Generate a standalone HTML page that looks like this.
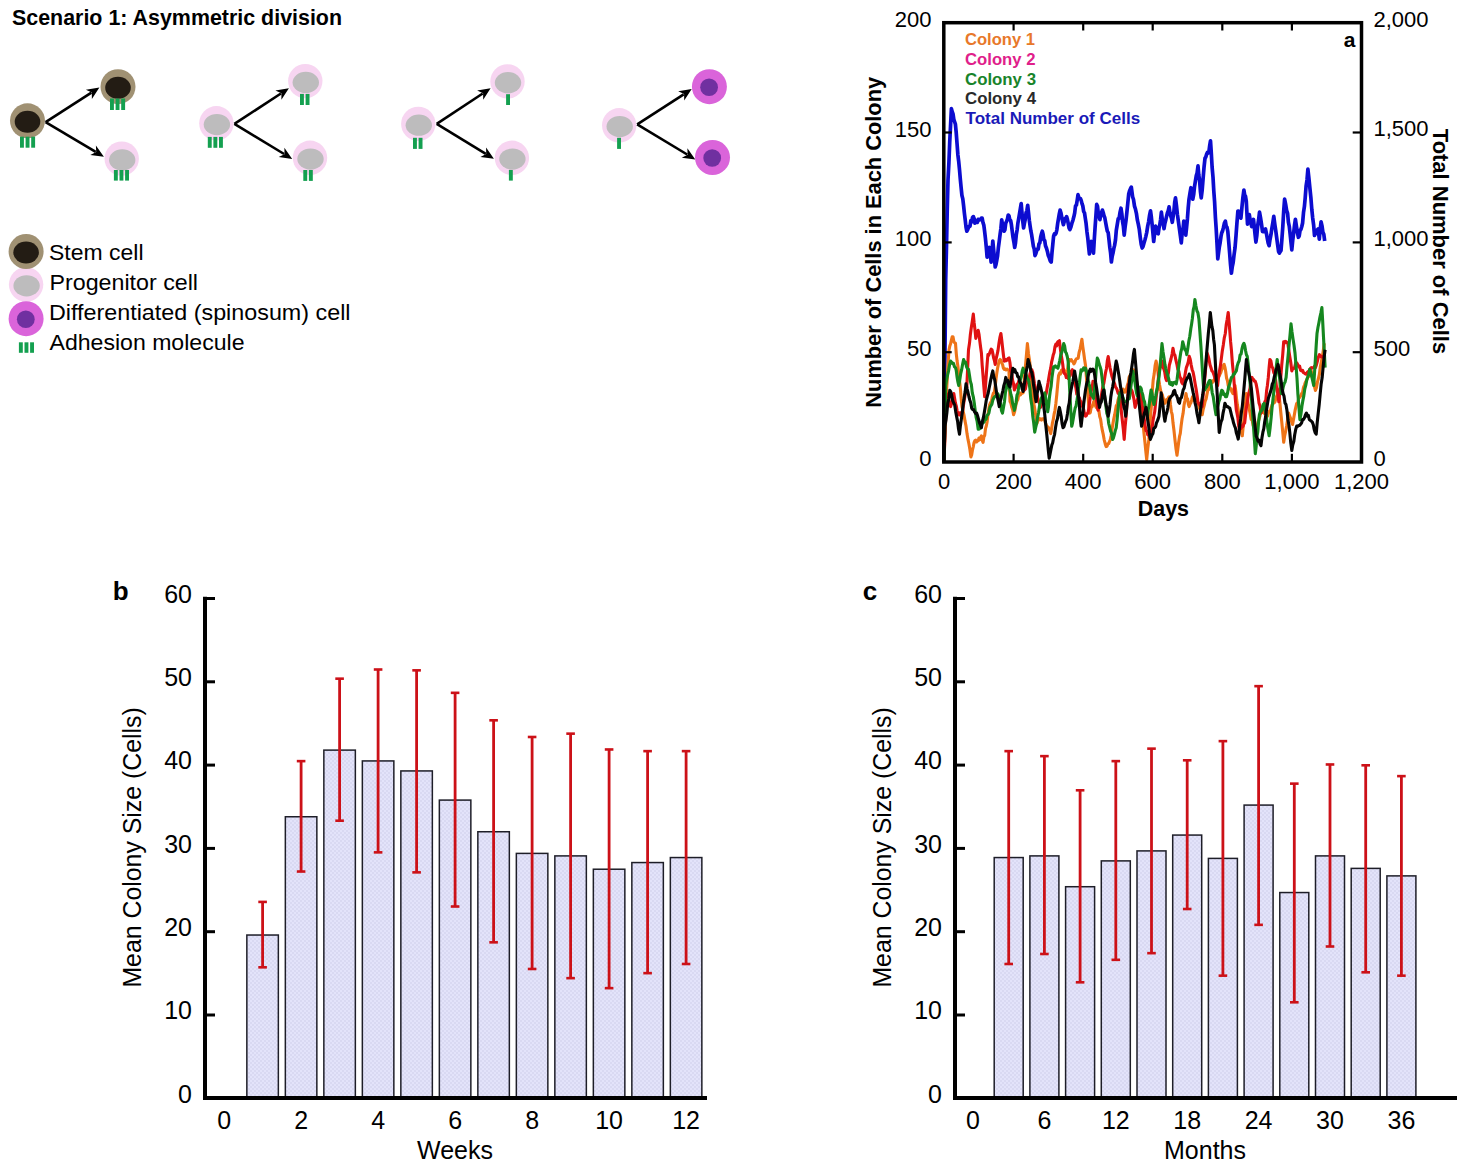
<!DOCTYPE html>
<html><head><meta charset="utf-8"><style>
html,body{margin:0;padding:0;background:#fff;}
svg{display:block;font-family:"Liberation Sans", sans-serif;}
</style></head><body>
<svg width="1467" height="1170" viewBox="0 0 1467 1170">
<defs><pattern id="hatch" width="4" height="4" patternUnits="userSpaceOnUse">
<rect width="4" height="4" fill="#e3e3fa"/><rect width="2" height="2" fill="#d9d9f2"/><rect x="2" y="2" width="2" height="2" fill="#d9d9f2"/></pattern></defs>
<rect width="1467" height="1170" fill="#fff"/>
<text x="12" y="24.6" font-size="22.5" font-weight="bold" textLength="330" lengthAdjust="spacingAndGlyphs" fill="#000">Scenario 1: Asymmetric division</text>
<circle cx="27.5" cy="120.8" r="17.5" fill="#a09173"/>
<ellipse cx="27.5" cy="121.8" rx="12.8" ry="11" fill="#231c14"/>
<rect x="20.0" y="136.7" width="3.9" height="11" fill="#14a050"/>
<rect x="25.6" y="136.7" width="3.9" height="11" fill="#14a050"/>
<rect x="31.2" y="136.7" width="3.9" height="11" fill="#14a050"/>
<line x1="45.6" y1="122.2" x2="91.4" y2="92.6" stroke="#000" stroke-width="2.6"/>
<polygon points="99.4,87.5 91.9,98.9 91.8,92.4 85.9,89.7" fill="#000"/>
<line x1="45.6" y1="122.2" x2="95.7" y2="151.9" stroke="#000" stroke-width="2.6"/>
<polygon points="103.9,156.7 90.3,155.1 96.2,152.1 95.9,145.6" fill="#000"/>
<circle cx="118" cy="86.7" r="17.5" fill="#a09173"/>
<ellipse cx="118" cy="87.7" rx="12.8" ry="11" fill="#231c14"/>
<rect x="110.0" y="98.5" width="3.9" height="11.5" fill="#14a050"/>
<rect x="115.6" y="98.5" width="3.9" height="11.5" fill="#14a050"/>
<rect x="121.2" y="98.5" width="3.9" height="11.5" fill="#14a050"/>
<circle cx="121.7" cy="158.6" r="17.2" fill="#f7d5f1"/>
<ellipse cx="122.2" cy="159.9" rx="13.2" ry="10.6" fill="#bdbcbd"/>
<rect x="113.9" y="170" width="3.9" height="10.6" fill="#14a050"/>
<rect x="119.5" y="170" width="3.9" height="10.6" fill="#14a050"/>
<rect x="125.1" y="170" width="3.9" height="10.6" fill="#14a050"/>
<circle cx="216.4" cy="123.3" r="17.2" fill="#f7d5f1"/>
<ellipse cx="216.9" cy="124.6" rx="13.2" ry="10.6" fill="#bdbcbd"/>
<rect x="207.8" y="136.9" width="3.9" height="10.9" fill="#14a050"/>
<rect x="213.4" y="136.9" width="3.9" height="10.9" fill="#14a050"/>
<rect x="219.0" y="136.9" width="3.9" height="10.9" fill="#14a050"/>
<line x1="234.4" y1="123.9" x2="280.9" y2="93.5" stroke="#000" stroke-width="2.6"/>
<polygon points="288.9,88.3 281.4,99.7 281.4,93.2 275.4,90.5" fill="#000"/>
<line x1="234.4" y1="123.9" x2="284.1" y2="154.0" stroke="#000" stroke-width="2.6"/>
<polygon points="292.2,158.9 278.7,157.1 284.5,154.2 284.4,147.7" fill="#000"/>
<circle cx="305.3" cy="81.1" r="17.2" fill="#f7d5f1"/>
<ellipse cx="305.8" cy="82.39999999999999" rx="13.2" ry="10.6" fill="#bdbcbd"/>
<rect x="300.0" y="93.9" width="3.9" height="11.1" fill="#14a050"/>
<rect x="305.6" y="93.9" width="3.9" height="11.1" fill="#14a050"/>
<circle cx="310" cy="157.8" r="17.2" fill="#f7d5f1"/>
<ellipse cx="310.5" cy="159.10000000000002" rx="13.2" ry="10.6" fill="#bdbcbd"/>
<rect x="303.3" y="170" width="3.9" height="10.9" fill="#14a050"/>
<rect x="308.9" y="170" width="3.9" height="10.9" fill="#14a050"/>
<circle cx="418.3" cy="123.9" r="17.2" fill="#f7d5f1"/>
<ellipse cx="418.8" cy="125.2" rx="13.2" ry="10.6" fill="#bdbcbd"/>
<rect x="413.0" y="137.8" width="3.9" height="11.1" fill="#14a050"/>
<rect x="418.6" y="137.8" width="3.9" height="11.1" fill="#14a050"/>
<line x1="436.7" y1="123.9" x2="482.7" y2="93.5" stroke="#000" stroke-width="2.6"/>
<polygon points="490.6,88.3 483.2,99.8 483.1,93.3 477.1,90.6" fill="#000"/>
<line x1="436.7" y1="123.9" x2="485.8" y2="153.8" stroke="#000" stroke-width="2.6"/>
<polygon points="493.9,158.7 480.4,156.9 486.2,154.0 486.1,147.5" fill="#000"/>
<circle cx="507.5" cy="81.4" r="17.2" fill="#f7d5f1"/>
<ellipse cx="508.0" cy="82.7" rx="13.2" ry="10.6" fill="#bdbcbd"/>
<rect x="506.1" y="94.2" width="3.9" height="10.8" fill="#14a050"/>
<circle cx="511.9" cy="157.8" r="17.2" fill="#f7d5f1"/>
<ellipse cx="512.4" cy="159.10000000000002" rx="13.2" ry="10.6" fill="#bdbcbd"/>
<rect x="508.9" y="170" width="3.9" height="10.6" fill="#14a050"/>
<circle cx="619.2" cy="125.3" r="17.2" fill="#f7d5f1"/>
<ellipse cx="619.7" cy="126.6" rx="13.2" ry="10.6" fill="#bdbcbd"/>
<rect x="617.1" y="137.8" width="3.9" height="11.1" fill="#14a050"/>
<line x1="637.2" y1="124.4" x2="683.7" y2="94.3" stroke="#000" stroke-width="2.6"/>
<polygon points="691.7,89.1 684.2,100.5 684.1,94.0 678.2,91.3" fill="#000"/>
<line x1="637.2" y1="124.4" x2="687.2" y2="154.5" stroke="#000" stroke-width="2.6"/>
<polygon points="695.3,159.4 681.8,157.7 687.6,154.8 687.4,148.2" fill="#000"/>
<circle cx="709.4" cy="86.7" r="17.5" fill="#da64da"/>
<ellipse cx="709.1" cy="87.2" rx="8.9" ry="8.8" fill="#7030a0"/>
<circle cx="712.5" cy="157.5" r="17.5" fill="#da64da"/>
<ellipse cx="712.2" cy="158.0" rx="8.9" ry="8.8" fill="#7030a0"/>
<circle cx="26.1" cy="284.5" r="17.2" fill="#f7d5f1"/>
<ellipse cx="26.6" cy="285.8" rx="13.2" ry="10.6" fill="#bdbcbd"/>
<circle cx="26.1" cy="251.5" r="17.5" fill="#a09173"/>
<ellipse cx="26.1" cy="252.5" rx="12.8" ry="11" fill="#231c14"/>
<circle cx="26.1" cy="318.7" r="17.5" fill="#da64da"/>
<ellipse cx="25.8" cy="319.2" rx="8.9" ry="8.8" fill="#7030a0"/>
<rect x="18.9" y="342.3" width="3.9" height="10.5" fill="#14a050"/>
<rect x="24.5" y="342.3" width="3.9" height="10.5" fill="#14a050"/>
<rect x="30.1" y="342.3" width="3.9" height="10.5" fill="#14a050"/>
<text x="49" y="259.6" font-size="22" textLength="94.5" lengthAdjust="spacingAndGlyphs" fill="#000">Stem cell</text>
<text x="49.5" y="289.5" font-size="22" textLength="148.5" lengthAdjust="spacingAndGlyphs" fill="#000">Progenitor cell</text>
<text x="49" y="319.6" font-size="22" textLength="301.5" lengthAdjust="spacingAndGlyphs" fill="#000">Differentiated (spinosum) cell</text>
<text x="49.5" y="349.5" font-size="22" textLength="195" lengthAdjust="spacingAndGlyphs" fill="#000">Adhesion molecule</text>
<rect x="246.85" y="935.03" width="31.5" height="163.27" fill="url(#hatch)" stroke="#1e1e28" stroke-width="1.5"/>
<rect x="285.35" y="816.75" width="31.5" height="281.55" fill="url(#hatch)" stroke="#1e1e28" stroke-width="1.5"/>
<rect x="323.85" y="750.11" width="31.5" height="348.19" fill="url(#hatch)" stroke="#1e1e28" stroke-width="1.5"/>
<rect x="362.35" y="760.93" width="31.5" height="337.37" fill="url(#hatch)" stroke="#1e1e28" stroke-width="1.5"/>
<rect x="400.85" y="770.93" width="31.5" height="327.37" fill="url(#hatch)" stroke="#1e1e28" stroke-width="1.5"/>
<rect x="439.35" y="800.09" width="31.5" height="298.21" fill="url(#hatch)" stroke="#1e1e28" stroke-width="1.5"/>
<rect x="477.85" y="831.74" width="31.5" height="266.56" fill="url(#hatch)" stroke="#1e1e28" stroke-width="1.5"/>
<rect x="516.35" y="853.40" width="31.5" height="244.90" fill="url(#hatch)" stroke="#1e1e28" stroke-width="1.5"/>
<rect x="554.85" y="855.90" width="31.5" height="242.40" fill="url(#hatch)" stroke="#1e1e28" stroke-width="1.5"/>
<rect x="593.35" y="869.22" width="31.5" height="229.08" fill="url(#hatch)" stroke="#1e1e28" stroke-width="1.5"/>
<rect x="631.85" y="862.56" width="31.5" height="235.74" fill="url(#hatch)" stroke="#1e1e28" stroke-width="1.5"/>
<rect x="670.35" y="857.56" width="31.5" height="240.74" fill="url(#hatch)" stroke="#1e1e28" stroke-width="1.5"/>
<line x1="262.6" y1="901.71" x2="262.6" y2="967.52" stroke="#cc1118" stroke-width="2.8"/>
<line x1="258.3" y1="901.91" x2="266.90000000000003" y2="901.91" stroke="#cc1118" stroke-width="2.6"/>
<line x1="258.3" y1="967.32" x2="266.90000000000003" y2="967.32" stroke="#cc1118" stroke-width="2.6"/>
<line x1="301.1" y1="760.93" x2="301.1" y2="871.72" stroke="#cc1118" stroke-width="2.8"/>
<line x1="296.8" y1="761.13" x2="305.40000000000003" y2="761.13" stroke="#cc1118" stroke-width="2.6"/>
<line x1="296.8" y1="871.52" x2="305.40000000000003" y2="871.52" stroke="#cc1118" stroke-width="2.6"/>
<line x1="339.6" y1="678.47" x2="339.6" y2="820.91" stroke="#cc1118" stroke-width="2.8"/>
<line x1="335.3" y1="678.67" x2="343.90000000000003" y2="678.67" stroke="#cc1118" stroke-width="2.6"/>
<line x1="335.3" y1="820.71" x2="343.90000000000003" y2="820.71" stroke="#cc1118" stroke-width="2.6"/>
<line x1="378.1" y1="669.30" x2="378.1" y2="852.56" stroke="#cc1118" stroke-width="2.8"/>
<line x1="373.8" y1="669.50" x2="382.40000000000003" y2="669.50" stroke="#cc1118" stroke-width="2.6"/>
<line x1="373.8" y1="852.36" x2="382.40000000000003" y2="852.36" stroke="#cc1118" stroke-width="2.6"/>
<line x1="416.6" y1="670.14" x2="416.6" y2="872.56" stroke="#cc1118" stroke-width="2.8"/>
<line x1="412.3" y1="670.34" x2="420.90000000000003" y2="670.34" stroke="#cc1118" stroke-width="2.6"/>
<line x1="412.3" y1="872.36" x2="420.90000000000003" y2="872.36" stroke="#cc1118" stroke-width="2.6"/>
<line x1="455.1" y1="692.63" x2="455.1" y2="906.71" stroke="#cc1118" stroke-width="2.8"/>
<line x1="450.8" y1="692.83" x2="459.40000000000003" y2="692.83" stroke="#cc1118" stroke-width="2.6"/>
<line x1="450.8" y1="906.51" x2="459.40000000000003" y2="906.51" stroke="#cc1118" stroke-width="2.6"/>
<line x1="493.6" y1="720.12" x2="493.6" y2="942.53" stroke="#cc1118" stroke-width="2.8"/>
<line x1="489.3" y1="720.32" x2="497.90000000000003" y2="720.32" stroke="#cc1118" stroke-width="2.6"/>
<line x1="489.3" y1="942.33" x2="497.90000000000003" y2="942.33" stroke="#cc1118" stroke-width="2.6"/>
<line x1="532.1" y1="736.78" x2="532.1" y2="969.18" stroke="#cc1118" stroke-width="2.8"/>
<line x1="527.8000000000001" y1="736.98" x2="536.4" y2="736.98" stroke="#cc1118" stroke-width="2.6"/>
<line x1="527.8000000000001" y1="968.98" x2="536.4" y2="968.98" stroke="#cc1118" stroke-width="2.6"/>
<line x1="570.6" y1="733.45" x2="570.6" y2="978.35" stroke="#cc1118" stroke-width="2.8"/>
<line x1="566.3000000000001" y1="733.65" x2="574.9" y2="733.65" stroke="#cc1118" stroke-width="2.6"/>
<line x1="566.3000000000001" y1="978.15" x2="574.9" y2="978.15" stroke="#cc1118" stroke-width="2.6"/>
<line x1="609.1" y1="749.27" x2="609.1" y2="988.34" stroke="#cc1118" stroke-width="2.8"/>
<line x1="604.8000000000001" y1="749.47" x2="613.4" y2="749.47" stroke="#cc1118" stroke-width="2.6"/>
<line x1="604.8000000000001" y1="988.14" x2="613.4" y2="988.14" stroke="#cc1118" stroke-width="2.6"/>
<line x1="647.6" y1="750.94" x2="647.6" y2="973.35" stroke="#cc1118" stroke-width="2.8"/>
<line x1="643.3000000000001" y1="751.14" x2="651.9" y2="751.14" stroke="#cc1118" stroke-width="2.6"/>
<line x1="643.3000000000001" y1="973.15" x2="651.9" y2="973.15" stroke="#cc1118" stroke-width="2.6"/>
<line x1="686.1" y1="750.94" x2="686.1" y2="964.19" stroke="#cc1118" stroke-width="2.8"/>
<line x1="681.8000000000001" y1="751.14" x2="690.4" y2="751.14" stroke="#cc1118" stroke-width="2.6"/>
<line x1="681.8000000000001" y1="963.99" x2="690.4" y2="963.99" stroke="#cc1118" stroke-width="2.6"/>
<line x1="205" y1="596.7" x2="205" y2="1100" stroke="#000" stroke-width="4"/>
<line x1="203" y1="1098" x2="707" y2="1098" stroke="#000" stroke-width="4"/>
<line x1="205" y1="1015.00" x2="215" y2="1015.00" stroke="#000" stroke-width="3"/>
<line x1="205" y1="931.70" x2="215" y2="931.70" stroke="#000" stroke-width="3"/>
<line x1="205" y1="848.40" x2="215" y2="848.40" stroke="#000" stroke-width="3"/>
<line x1="205" y1="765.10" x2="215" y2="765.10" stroke="#000" stroke-width="3"/>
<line x1="205" y1="681.80" x2="215" y2="681.80" stroke="#000" stroke-width="3"/>
<line x1="205" y1="598.50" x2="215" y2="598.50" stroke="#000" stroke-width="3"/>
<text x="192" y="1102.6" font-size="25" text-anchor="end" fill="#000">0</text>
<text x="192" y="1019.3" font-size="25" text-anchor="end" fill="#000">10</text>
<text x="192" y="936.0" font-size="25" text-anchor="end" fill="#000">20</text>
<text x="192" y="852.7" font-size="25" text-anchor="end" fill="#000">30</text>
<text x="192" y="769.4" font-size="25" text-anchor="end" fill="#000">40</text>
<text x="192" y="686.1" font-size="25" text-anchor="end" fill="#000">50</text>
<text x="192" y="602.8" font-size="25" text-anchor="end" fill="#000">60</text>
<text x="224.1" y="1129" font-size="25" text-anchor="middle" fill="#000">0</text>
<text x="301.1" y="1129" font-size="25" text-anchor="middle" fill="#000">2</text>
<text x="378.1" y="1129" font-size="25" text-anchor="middle" fill="#000">4</text>
<text x="455.1" y="1129" font-size="25" text-anchor="middle" fill="#000">6</text>
<text x="532.1" y="1129" font-size="25" text-anchor="middle" fill="#000">8</text>
<text x="609.1" y="1129" font-size="25" text-anchor="middle" fill="#000">10</text>
<text x="686.1" y="1129" font-size="25" text-anchor="middle" fill="#000">12</text>
<text x="455" y="1159.1" font-size="25" text-anchor="middle" fill="#000">Weeks</text>
<text x="0" y="0" font-size="25" text-anchor="middle" transform="translate(140.5,847.4) rotate(-90)" textLength="280.4" lengthAdjust="spacingAndGlyphs">Mean Colony Size (Cells)</text>
<text x="112.8" y="600" font-size="26" font-weight="bold" fill="#000">b</text>
<rect x="994.20" y="857.56" width="29.0" height="240.74" fill="url(#hatch)" stroke="#1e1e28" stroke-width="1.5"/>
<rect x="1029.90" y="855.90" width="29.0" height="242.40" fill="url(#hatch)" stroke="#1e1e28" stroke-width="1.5"/>
<rect x="1065.60" y="886.72" width="29.0" height="211.58" fill="url(#hatch)" stroke="#1e1e28" stroke-width="1.5"/>
<rect x="1101.30" y="860.89" width="29.0" height="237.40" fill="url(#hatch)" stroke="#1e1e28" stroke-width="1.5"/>
<rect x="1137.00" y="850.90" width="29.0" height="247.40" fill="url(#hatch)" stroke="#1e1e28" stroke-width="1.5"/>
<rect x="1172.70" y="835.07" width="29.0" height="263.23" fill="url(#hatch)" stroke="#1e1e28" stroke-width="1.5"/>
<rect x="1208.40" y="858.40" width="29.0" height="239.90" fill="url(#hatch)" stroke="#1e1e28" stroke-width="1.5"/>
<rect x="1244.10" y="805.08" width="29.0" height="293.22" fill="url(#hatch)" stroke="#1e1e28" stroke-width="1.5"/>
<rect x="1279.80" y="892.55" width="29.0" height="205.75" fill="url(#hatch)" stroke="#1e1e28" stroke-width="1.5"/>
<rect x="1315.50" y="855.90" width="29.0" height="242.40" fill="url(#hatch)" stroke="#1e1e28" stroke-width="1.5"/>
<rect x="1351.20" y="868.39" width="29.0" height="229.91" fill="url(#hatch)" stroke="#1e1e28" stroke-width="1.5"/>
<rect x="1386.90" y="875.89" width="29.0" height="222.41" fill="url(#hatch)" stroke="#1e1e28" stroke-width="1.5"/>
<line x1="1008.7" y1="750.94" x2="1008.7" y2="964.19" stroke="#cc1118" stroke-width="2.8"/>
<line x1="1004.4000000000001" y1="751.14" x2="1013.0" y2="751.14" stroke="#cc1118" stroke-width="2.6"/>
<line x1="1004.4000000000001" y1="963.99" x2="1013.0" y2="963.99" stroke="#cc1118" stroke-width="2.6"/>
<line x1="1044.4" y1="755.94" x2="1044.4" y2="954.19" stroke="#cc1118" stroke-width="2.8"/>
<line x1="1040.1000000000001" y1="756.14" x2="1048.7" y2="756.14" stroke="#cc1118" stroke-width="2.6"/>
<line x1="1040.1000000000001" y1="953.99" x2="1048.7" y2="953.99" stroke="#cc1118" stroke-width="2.6"/>
<line x1="1080.1" y1="790.09" x2="1080.1" y2="982.51" stroke="#cc1118" stroke-width="2.8"/>
<line x1="1075.8" y1="790.29" x2="1084.3999999999999" y2="790.29" stroke="#cc1118" stroke-width="2.6"/>
<line x1="1075.8" y1="982.31" x2="1084.3999999999999" y2="982.31" stroke="#cc1118" stroke-width="2.6"/>
<line x1="1115.8" y1="760.93" x2="1115.8" y2="960.02" stroke="#cc1118" stroke-width="2.8"/>
<line x1="1111.5" y1="761.13" x2="1120.1" y2="761.13" stroke="#cc1118" stroke-width="2.6"/>
<line x1="1111.5" y1="959.82" x2="1120.1" y2="959.82" stroke="#cc1118" stroke-width="2.6"/>
<line x1="1151.5" y1="748.44" x2="1151.5" y2="953.36" stroke="#cc1118" stroke-width="2.8"/>
<line x1="1147.2" y1="748.64" x2="1155.8" y2="748.64" stroke="#cc1118" stroke-width="2.6"/>
<line x1="1147.2" y1="953.16" x2="1155.8" y2="953.16" stroke="#cc1118" stroke-width="2.6"/>
<line x1="1187.2" y1="760.10" x2="1187.2" y2="909.21" stroke="#cc1118" stroke-width="2.8"/>
<line x1="1182.9" y1="760.30" x2="1191.5" y2="760.30" stroke="#cc1118" stroke-width="2.6"/>
<line x1="1182.9" y1="909.01" x2="1191.5" y2="909.01" stroke="#cc1118" stroke-width="2.6"/>
<line x1="1222.9" y1="740.94" x2="1222.9" y2="975.85" stroke="#cc1118" stroke-width="2.8"/>
<line x1="1218.6000000000001" y1="741.14" x2="1227.2" y2="741.14" stroke="#cc1118" stroke-width="2.6"/>
<line x1="1218.6000000000001" y1="975.65" x2="1227.2" y2="975.65" stroke="#cc1118" stroke-width="2.6"/>
<line x1="1258.6" y1="685.96" x2="1258.6" y2="925.04" stroke="#cc1118" stroke-width="2.8"/>
<line x1="1254.3" y1="686.16" x2="1262.8999999999999" y2="686.16" stroke="#cc1118" stroke-width="2.6"/>
<line x1="1254.3" y1="924.84" x2="1262.8999999999999" y2="924.84" stroke="#cc1118" stroke-width="2.6"/>
<line x1="1294.3" y1="783.43" x2="1294.3" y2="1002.50" stroke="#cc1118" stroke-width="2.8"/>
<line x1="1290.0" y1="783.63" x2="1298.6" y2="783.63" stroke="#cc1118" stroke-width="2.6"/>
<line x1="1290.0" y1="1002.30" x2="1298.6" y2="1002.30" stroke="#cc1118" stroke-width="2.6"/>
<line x1="1330.0" y1="764.27" x2="1330.0" y2="946.69" stroke="#cc1118" stroke-width="2.8"/>
<line x1="1325.7" y1="764.47" x2="1334.3" y2="764.47" stroke="#cc1118" stroke-width="2.6"/>
<line x1="1325.7" y1="946.49" x2="1334.3" y2="946.49" stroke="#cc1118" stroke-width="2.6"/>
<line x1="1365.7" y1="765.10" x2="1365.7" y2="972.52" stroke="#cc1118" stroke-width="2.8"/>
<line x1="1361.4" y1="765.30" x2="1370.0" y2="765.30" stroke="#cc1118" stroke-width="2.6"/>
<line x1="1361.4" y1="972.32" x2="1370.0" y2="972.32" stroke="#cc1118" stroke-width="2.6"/>
<line x1="1401.4" y1="775.93" x2="1401.4" y2="975.85" stroke="#cc1118" stroke-width="2.8"/>
<line x1="1397.1000000000001" y1="776.13" x2="1405.7" y2="776.13" stroke="#cc1118" stroke-width="2.6"/>
<line x1="1397.1000000000001" y1="975.65" x2="1405.7" y2="975.65" stroke="#cc1118" stroke-width="2.6"/>
<line x1="955" y1="596.7" x2="955" y2="1100" stroke="#000" stroke-width="4"/>
<line x1="953" y1="1098" x2="1457" y2="1098" stroke="#000" stroke-width="4"/>
<line x1="955" y1="1015.00" x2="965" y2="1015.00" stroke="#000" stroke-width="3"/>
<line x1="955" y1="931.70" x2="965" y2="931.70" stroke="#000" stroke-width="3"/>
<line x1="955" y1="848.40" x2="965" y2="848.40" stroke="#000" stroke-width="3"/>
<line x1="955" y1="765.10" x2="965" y2="765.10" stroke="#000" stroke-width="3"/>
<line x1="955" y1="681.80" x2="965" y2="681.80" stroke="#000" stroke-width="3"/>
<line x1="955" y1="598.50" x2="965" y2="598.50" stroke="#000" stroke-width="3"/>
<text x="942" y="1102.6" font-size="25" text-anchor="end" fill="#000">0</text>
<text x="942" y="1019.3" font-size="25" text-anchor="end" fill="#000">10</text>
<text x="942" y="936.0" font-size="25" text-anchor="end" fill="#000">20</text>
<text x="942" y="852.7" font-size="25" text-anchor="end" fill="#000">30</text>
<text x="942" y="769.4" font-size="25" text-anchor="end" fill="#000">40</text>
<text x="942" y="686.1" font-size="25" text-anchor="end" fill="#000">50</text>
<text x="942" y="602.8" font-size="25" text-anchor="end" fill="#000">60</text>
<text x="973.0" y="1129" font-size="25" text-anchor="middle" fill="#000">0</text>
<text x="1044.4" y="1129" font-size="25" text-anchor="middle" fill="#000">6</text>
<text x="1115.8" y="1129" font-size="25" text-anchor="middle" fill="#000">12</text>
<text x="1187.2" y="1129" font-size="25" text-anchor="middle" fill="#000">18</text>
<text x="1258.6" y="1129" font-size="25" text-anchor="middle" fill="#000">24</text>
<text x="1330.0" y="1129" font-size="25" text-anchor="middle" fill="#000">30</text>
<text x="1401.4" y="1129" font-size="25" text-anchor="middle" fill="#000">36</text>
<text x="1205" y="1159.1" font-size="25" text-anchor="middle" fill="#000">Months</text>
<text x="0" y="0" font-size="25" text-anchor="middle" transform="translate(890.5,847.4) rotate(-90)" textLength="280.4" lengthAdjust="spacingAndGlyphs">Mean Colony Size (Cells)</text>
<text x="862.8" y="600" font-size="26" font-weight="bold" fill="#000">c</text>
<polyline points="944.0,462.0 944.5,400.0 945.7,280.0 946.5,246.0 947.2,211.9 948.0,180.0 948.9,162.8 949.7,142.6 950.5,126.7 951.4,108.7 952.2,111.7 953.0,113.9 953.8,119.2 954.6,121.7 955.4,124.1 956.2,132.5 957.1,144.4 957.9,155.0 958.7,161.4 959.5,169.6 960.3,179.0 961.1,187.4 961.9,195.2 962.8,198.9 963.6,205.8 964.4,213.4 965.2,219.8 966.0,227.1 966.8,231.2 967.6,229.9 968.4,227.6 969.2,226.4 970.0,226.3 970.8,220.7 971.7,222.0 972.5,217.7 973.3,216.6 974.1,218.4 974.9,223.1 975.7,220.9 976.5,221.1 977.4,222.4 978.2,219.3 979.0,219.9 979.8,219.8 980.6,219.6 981.4,218.1 982.2,218.2 983.0,222.7 983.8,225.1 984.6,231.2 985.4,238.1 986.3,247.4 987.1,257.2 987.9,254.7 988.7,250.4 989.5,247.5 990.3,254.1 991.1,262.1 992.0,251.9 992.8,241.0 993.6,249.5 994.4,257.5 995.2,267.0 996.0,264.4 996.8,260.2 997.6,255.6 998.4,247.4 999.2,241.6 1000.1,234.3 1000.9,228.5 1001.7,219.9 1002.5,224.6 1003.3,226.6 1004.1,231.2 1004.9,229.9 1005.7,223.2 1006.6,221.2 1007.4,219.3 1008.2,215.0 1009.0,216.0 1009.8,219.8 1010.6,220.4 1011.4,224.7 1012.2,231.1 1013.0,237.2 1013.9,242.1 1014.7,247.5 1015.5,242.9 1016.3,234.6 1017.1,230.0 1017.9,223.1 1018.7,218.6 1019.5,213.7 1020.4,208.3 1021.2,203.6 1022.0,213.1 1022.8,221.6 1023.6,228.0 1024.4,223.4 1025.2,219.6 1026.1,212.6 1026.9,210.6 1027.7,205.3 1028.5,212.4 1029.3,220.2 1030.1,226.0 1030.9,231.2 1031.7,235.2 1032.5,240.5 1033.4,246.5 1034.2,248.8 1035.0,255.6 1035.8,253.8 1036.6,251.0 1037.4,249.2 1038.2,249.1 1039.0,243.8 1039.8,243.0 1040.7,236.9 1041.5,233.8 1042.3,231.2 1043.1,234.4 1043.9,240.0 1044.7,240.5 1045.5,245.8 1046.5,248.3 1047.4,251.4 1048.3,255.5 1049.3,257.9 1050.2,260.8 1051.2,262.1 1052.0,252.5 1052.8,244.4 1053.6,236.1 1054.4,233.9 1055.2,234.4 1056.1,233.1 1056.9,229.6 1057.7,223.3 1058.5,218.6 1059.3,213.9 1060.1,210.1 1060.9,212.7 1061.8,217.3 1062.6,221.4 1063.4,224.7 1064.2,221.7 1065.0,218.7 1065.8,218.3 1066.6,216.6 1067.4,219.3 1068.2,223.4 1069.1,228.2 1069.9,229.6 1070.9,227.1 1071.9,223.2 1072.9,220.3 1073.9,216.6 1074.7,212.9 1075.5,206.1 1076.4,205.1 1077.2,200.2 1078.0,194.7 1078.8,197.6 1079.6,198.7 1080.4,198.5 1081.2,200.4 1082.0,203.6 1082.8,205.9 1083.7,211.6 1084.5,212.9 1085.3,218.2 1086.1,223.6 1086.9,231.4 1087.8,238.3 1088.6,246.2 1089.4,254.0 1090.5,246.0 1091.5,241.5 1092.5,245.3 1093.5,253.1 1094.3,239.5 1095.1,227.2 1095.9,216.0 1096.7,204.4 1097.5,206.3 1098.3,213.5 1099.1,216.3 1099.9,219.7 1100.7,215.1 1101.6,212.3 1102.4,210.1 1103.2,212.5 1104.0,215.7 1104.8,217.7 1105.6,222.3 1106.5,227.1 1107.3,231.1 1108.2,232.6 1109.0,239.8 1109.8,247.2 1110.6,253.0 1111.4,262.0 1112.2,256.3 1113.0,253.1 1113.8,248.6 1114.6,245.4 1115.5,239.9 1116.3,230.4 1117.2,224.9 1118.2,218.8 1119.1,218.4 1120.0,212.5 1121.0,208.2 1121.8,213.5 1122.6,221.8 1123.4,226.5 1124.2,235.1 1125.1,227.0 1126.0,220.6 1126.9,212.0 1127.8,203.1 1128.7,194.1 1129.6,190.8 1130.4,188.9 1131.3,187.1 1132.6,196.7 1133.5,199.5 1134.5,206.1 1135.5,209.3 1136.4,213.3 1137.4,220.2 1138.3,224.2 1139.3,229.5 1140.3,237.7 1141.2,244.2 1142.2,248.0 1143.1,246.3 1144.0,243.1 1144.9,240.0 1145.8,236.6 1146.7,232.6 1147.7,226.1 1148.6,221.8 1149.5,215.7 1150.5,210.8 1151.3,216.6 1152.1,224.3 1152.9,232.9 1153.7,241.5 1154.7,232.9 1155.6,226.2 1156.5,229.5 1157.3,233.1 1158.2,233.8 1159.0,228.2 1159.8,224.7 1160.6,219.5 1161.4,212.1 1162.3,219.5 1163.1,222.6 1164.0,228.7 1164.8,223.9 1165.7,220.3 1166.5,216.6 1167.4,213.0 1168.2,211.0 1169.1,206.9 1169.9,212.4 1170.7,216.0 1171.5,218.4 1172.3,222.3 1173.1,216.8 1173.9,211.3 1174.7,202.3 1175.5,197.9 1176.5,206.0 1177.4,214.5 1178.4,221.5 1179.4,228.8 1180.3,235.2 1181.3,242.8 1182.1,234.2 1183.0,229.4 1183.8,221.0 1184.8,227.4 1185.8,235.1 1186.6,227.3 1187.4,219.0 1188.2,207.8 1189.0,199.2 1190.0,193.1 1190.9,187.7 1191.8,195.2 1192.8,199.2 1193.7,194.5 1194.5,186.8 1195.4,181.1 1196.3,175.6 1197.1,173.1 1198.0,165.9 1198.8,175.1 1199.6,180.5 1200.4,191.2 1201.2,197.9 1202.2,189.9 1203.1,178.7 1204.0,167.5 1205.0,158.2 1205.8,157.1 1206.6,154.2 1207.4,152.4 1208.2,153.1 1209.0,150.9 1209.7,145.6 1210.5,140.9 1211.3,153.2 1212.1,167.0 1213.0,177.2 1213.8,191.1 1214.6,201.8 1215.4,217.4 1216.2,229.1 1217.0,243.6 1217.8,258.8 1218.6,252.4 1219.4,246.6 1220.2,242.3 1221.0,236.4 1221.7,232.9 1222.4,231.4 1223.4,227.7 1224.4,223.1 1225.4,221.2 1226.2,226.2 1227.0,227.4 1227.8,231.4 1228.7,241.7 1229.6,252.6 1230.5,264.4 1231.4,273.2 1232.3,266.6 1233.2,262.3 1234.1,254.4 1235.0,248.1 1236.0,235.9 1236.9,223.5 1237.9,211.0 1238.9,211.5 1239.9,215.6 1240.9,218.2 1241.9,207.6 1242.9,197.5 1243.9,190.1 1244.7,195.1 1245.5,196.3 1246.3,201.4 1247.5,224.2 1248.4,219.3 1249.3,214.6 1250.1,219.5 1250.9,222.8 1251.7,226.6 1252.6,222.3 1253.5,219.4 1254.3,227.0 1255.1,234.8 1255.9,242.1 1256.8,235.8 1257.7,225.6 1258.6,219.9 1259.5,212.2 1260.5,217.6 1261.5,224.1 1262.5,231.4 1263.5,231.7 1264.5,229.8 1265.5,229.0 1266.4,233.4 1267.3,238.4 1268.2,243.2 1269.1,245.7 1270.0,239.6 1271.0,234.4 1271.9,228.1 1272.9,222.3 1273.8,216.4 1274.8,224.2 1275.7,230.3 1276.7,237.7 1277.6,244.6 1278.6,251.7 1279.4,253.1 1280.2,251.7 1281.0,250.5 1281.9,239.2 1282.8,226.6 1283.7,211.0 1284.6,199.1 1285.6,204.1 1286.6,210.4 1287.6,213.4 1288.4,222.1 1289.3,226.5 1290.1,233.8 1291.0,242.4 1291.8,249.9 1292.7,240.6 1293.6,233.6 1294.5,225.3 1295.4,219.4 1296.4,226.0 1297.4,232.5 1298.4,237.3 1299.2,236.0 1300.1,230.2 1300.9,229.6 1301.8,226.5 1302.6,223.0 1303.5,212.6 1304.4,206.6 1305.2,197.9 1306.1,185.9 1307.0,179.9 1307.9,169.1 1308.9,178.3 1309.9,188.2 1310.9,197.9 1311.8,209.3 1312.7,218.0 1313.6,224.7 1314.5,235.5 1315.4,233.6 1316.3,232.3 1317.2,230.0 1318.1,229.0 1319.3,239.1 1320.2,229.2 1321.1,221.8 1322.0,225.8 1322.9,232.2 1323.8,234.2 1324.7,240.9" fill="none" stroke="#0c0cd0" stroke-width="3.7" stroke-linejoin="round"/>
<polyline points="944.0,462.0 945.0,431.2 946.0,400.0 947.0,383.1 948.0,365.0 949.0,350.0 949.8,346.1 950.6,343.8 951.4,340.1 952.2,336.8 953.0,336.9 953.9,341.7 954.7,342.7 955.5,343.3 956.3,353.8 957.1,361.1 957.9,366.3 958.7,373.3 959.5,380.6 960.3,387.7 961.2,398.9 962.0,406.6 963.0,410.7 964.0,415.0 965.0,420.9 966.0,426.0 967.0,433.6 968.0,439.4 968.9,443.7 969.9,449.5 970.9,456.9 971.7,454.7 972.5,449.8 973.3,446.6 974.1,442.3 974.9,440.6 975.7,440.2 976.6,442.0 977.4,440.8 978.2,440.7 979.0,438.0 979.8,439.7 980.6,437.5 981.4,435.8 982.2,440.1 983.1,442.3 983.9,436.8 984.7,435.4 985.5,428.6 986.3,426.0 987.1,422.0 987.9,415.3 988.7,409.7 989.5,405.0 990.5,402.6 991.5,401.3 992.4,396.4 993.4,393.3 994.4,392.0 995.2,386.0 996.0,378.9 996.9,372.4 997.7,367.6 998.5,363.7 999.3,360.7 1000.1,359.5 1000.9,360.4 1001.7,362.8 1002.6,364.7 1003.4,368.2 1004.2,369.3 1005.2,368.9 1006.1,369.9 1007.1,369.2 1008.0,370.1 1009.0,370.9 1010.0,401.6 1010.9,403.2 1011.8,407.3 1012.7,409.8 1013.6,414.7 1014.5,412.1 1015.3,408.1 1016.2,403.5 1017.0,401.1 1017.9,399.3 1018.7,394.4 1019.6,392.8 1020.5,394.9 1021.3,393.3 1022.2,393.2 1023.1,392.9 1024.0,384.2 1024.8,372.8 1025.7,363.3 1026.5,354.1 1027.4,343.6 1028.5,353.9 1029.6,361.0 1030.5,369.2 1031.4,379.5 1032.2,387.8 1033.1,396.3 1034.0,404.5 1035.0,410.5 1035.9,416.6 1036.9,423.4 1037.8,420.8 1038.7,419.9 1039.6,418.6 1040.5,419.0 1041.4,420.1 1042.2,418.8 1043.1,418.8 1043.9,418.8 1044.8,420.5 1045.6,423.5 1046.5,425.5 1047.3,426.7 1048.2,427.2 1049.0,429.0 1049.9,431.0 1050.7,433.6 1051.6,428.8 1052.4,423.1 1053.3,419.4 1054.1,414.2 1055.0,410.3 1055.9,403.2 1056.8,394.5 1057.7,384.4 1058.6,375.5 1059.5,373.2 1060.4,374.2 1061.4,370.5 1062.3,369.7 1063.2,370.1 1064.0,369.7 1064.9,371.9 1065.7,373.1 1066.6,374.0 1067.6,369.2 1068.5,363.3 1069.5,359.5 1070.4,360.4 1071.3,359.6 1072.1,361.3 1073.0,361.6 1073.9,363.9 1074.8,362.4 1075.6,360.0 1076.5,358.8 1077.3,358.6 1078.2,358.1 1079.1,352.5 1080.1,348.9 1081.0,344.0 1081.9,339.2 1082.8,346.6 1083.7,352.8 1084.6,359.5 1085.5,365.3 1086.5,378.6 1087.5,388.9 1088.4,400.6 1089.4,413.2 1090.3,412.5 1091.1,407.4 1092.0,407.0 1092.8,404.4 1093.7,401.6 1094.5,401.5 1095.4,405.6 1096.2,407.3 1097.1,407.8 1098.0,409.6 1098.8,410.3 1099.7,416.5 1100.6,419.3 1101.5,425.7 1102.4,430.7 1103.3,434.7 1104.2,439.8 1105.2,443.7 1106.1,446.6 1107.0,446.3 1107.8,444.0 1108.7,443.6 1109.5,441.5 1110.4,439.4 1111.2,435.2 1112.1,428.8 1113.0,423.3 1113.8,418.8 1114.7,414.7 1115.5,410.3 1116.3,405.6 1117.2,404.7 1118.0,400.3 1118.9,397.2 1119.8,393.8 1120.6,390.0 1121.4,390.9 1122.3,390.5 1123.2,389.1 1124.0,392.0 1124.8,392.1 1125.7,391.5 1126.6,388.3 1127.4,385.2 1128.3,382.4 1129.1,377.2 1130.0,375.5 1130.9,374.9 1131.8,371.8 1132.7,369.7 1133.6,369.7 1134.5,372.4 1135.4,377.4 1136.2,379.1 1137.1,384.4 1138.0,387.1 1138.8,394.8 1139.7,399.2 1140.5,404.9 1141.4,411.2 1142.2,418.0 1143.1,423.4 1144.0,433.4 1144.9,441.9 1145.8,451.1 1146.7,459.7 1147.8,448.1 1148.9,439.4 1149.8,426.3 1150.6,414.8 1151.5,404.5 1152.3,391.1 1153.2,379.9 1154.2,373.8 1155.1,365.6 1156.1,361.0 1157.0,365.3 1157.9,371.8 1158.7,379.0 1159.6,384.9 1160.5,390.0 1161.4,393.3 1162.3,394.6 1163.1,398.0 1164.0,400.5 1164.9,403.3 1165.9,401.9 1166.8,399.4 1167.8,400.7 1168.7,397.1 1169.7,396.8 1170.5,404.9 1171.3,411.3 1172.2,414.7 1173.0,422.8 1174.0,430.8 1175.0,440.1 1176.0,448.8 1177.0,455.3 1177.8,449.3 1178.6,442.8 1179.5,436.7 1180.3,433.4 1181.1,426.0 1182.1,418.5 1183.1,413.3 1184.0,405.3 1185.0,400.2 1186.0,393.6 1186.8,398.4 1187.6,398.9 1188.4,404.4 1189.2,406.6 1190.0,404.2 1190.8,403.0 1191.7,399.9 1192.5,396.8 1193.5,397.2 1194.4,400.8 1195.4,400.7 1196.3,400.4 1197.3,403.3 1198.3,403.9 1199.3,407.8 1200.2,410.0 1201.2,411.7 1202.2,414.7 1203.2,409.3 1204.2,405.7 1205.1,401.4 1206.1,399.0 1207.1,393.6 1207.9,389.5 1208.7,389.6 1209.5,387.5 1210.3,383.9 1211.3,381.3 1212.3,382.7 1213.2,380.7 1214.2,380.1 1215.2,377.4 1216.2,376.0 1217.1,375.6 1218.1,375.1 1219.0,376.5 1220.0,374.1 1220.8,372.5 1221.6,369.7 1222.5,368.0 1223.3,365.6 1224.1,364.4 1224.9,367.1 1225.7,371.5 1226.6,378.2 1227.4,380.6 1228.2,385.5 1229.2,388.6 1230.1,387.9 1231.1,389.6 1232.0,392.0 1233.0,393.6 1234.0,388.5 1235.0,385.5 1235.8,391.2 1236.6,399.3 1237.4,405.1 1238.2,409.9 1239.0,416.1 1239.8,420.7 1240.7,426.8 1241.5,432.1 1242.3,435.8 1243.1,427.5 1243.9,419.7 1244.8,408.9 1245.6,402.8 1246.4,393.6 1247.4,398.6 1248.3,404.9 1249.3,409.7 1250.2,413.7 1251.2,419.6 1252.2,420.3 1253.2,425.6 1254.1,425.2 1255.1,428.6 1256.1,431.0 1257.1,426.2 1258.1,421.9 1259.0,419.2 1260.0,415.7 1261.0,409.9 1261.9,410.0 1262.9,412.3 1263.8,412.0 1264.7,413.8 1265.6,414.2 1266.6,414.3 1267.5,416.4 1268.4,413.1 1269.4,411.1 1270.3,411.3 1271.2,407.7 1272.2,404.6 1273.1,403.4 1274.0,403.1 1275.0,401.8 1275.9,398.3 1276.9,395.6 1277.8,394.2 1278.8,393.6 1279.8,401.9 1280.8,412.5 1281.7,421.4 1282.7,431.7 1283.7,442.3 1284.7,435.6 1285.7,430.9 1286.6,426.1 1287.6,419.8 1288.6,413.1 1289.6,415.7 1290.6,418.5 1291.6,421.7 1292.6,424.5 1293.4,419.9 1294.2,415.5 1295.1,410.4 1295.9,406.9 1296.7,403.4 1297.7,403.0 1298.7,398.2 1299.6,397.5 1300.6,396.0 1301.6,393.6 1302.6,392.2 1303.5,387.4 1304.5,385.0 1305.4,382.3 1306.4,380.6 1307.4,378.3 1308.4,376.5 1309.3,376.3 1310.3,374.0 1311.3,370.9 1312.1,376.1 1312.9,377.1 1313.8,381.0 1314.6,387.2 1315.4,390.4 1316.4,387.7 1317.4,382.2 1318.4,378.5 1319.4,374.2 1320.4,366.3 1321.4,361.5 1322.3,357.1 1323.3,350.6 1324.3,343.3" fill="none" stroke="#ee7418" stroke-width="3.1" stroke-linejoin="round"/>
<polyline points="944.0,462.0 944.8,440.4 945.7,418.0 946.5,393.6 947.3,395.3 948.1,397.5 949.0,400.2 949.8,404.1 950.6,406.6 951.4,404.0 952.2,401.6 953.0,397.6 953.8,393.6 954.6,398.3 955.4,402.9 956.3,406.1 957.1,410.7 957.9,414.7 958.7,412.8 959.5,415.0 960.4,412.8 961.2,414.8 962.0,413.1 963.0,408.4 963.9,402.0 964.9,396.2 965.8,391.5 966.8,387.1 967.6,368.9 968.5,349.8 969.5,343.3 970.4,334.2 971.4,326.9 972.3,321.3 973.3,314.1 974.1,322.5 975.0,329.9 975.8,338.4 976.6,334.8 977.4,333.3 978.2,330.3 979.0,334.3 979.8,341.0 980.6,347.2 981.4,353.0 982.2,365.5 983.0,375.4 983.9,387.2 984.7,396.8 985.5,386.2 986.3,374.8 987.1,364.3 987.9,354.6 988.7,355.2 989.5,353.4 990.4,351.1 991.2,349.1 992.0,349.8 992.8,353.4 993.6,357.7 994.4,360.5 995.2,364.4 996.2,358.4 997.1,354.7 998.0,350.4 999.0,342.9 1000.0,337.1 1000.9,333.5 1001.7,339.8 1002.5,347.0 1003.4,354.8 1004.2,361.1 1005.2,359.4 1006.1,360.8 1007.1,360.0 1008.0,358.6 1009.0,357.9 1009.9,362.2 1010.8,370.2 1011.7,373.3 1012.6,380.4 1013.5,383.7 1014.4,390.0 1015.3,387.3 1016.1,387.4 1017.0,384.1 1017.8,384.6 1018.7,381.3 1019.7,382.7 1020.6,383.1 1021.6,384.7 1022.6,386.8 1023.5,389.1 1024.5,390.0 1025.4,389.0 1026.3,383.7 1027.2,382.0 1028.2,378.9 1029.1,378.9 1030.0,373.6 1030.9,370.7 1031.8,369.7 1032.7,372.3 1033.5,377.5 1034.4,383.2 1035.2,387.2 1036.1,390.0 1037.0,394.3 1037.9,398.7 1038.7,401.9 1039.6,403.3 1040.5,407.4 1041.5,403.9 1042.4,404.0 1043.4,401.0 1044.4,396.1 1045.3,395.9 1046.3,392.9 1047.2,387.5 1048.1,382.6 1048.9,377.5 1049.8,372.0 1050.7,368.2 1051.6,362.2 1052.4,358.8 1053.3,354.7 1054.1,352.4 1055.0,346.5 1055.9,344.1 1056.8,345.8 1057.6,342.0 1058.5,341.4 1059.4,340.7 1060.3,348.2 1061.1,354.6 1062.0,359.6 1062.8,364.7 1063.7,372.6 1064.6,373.7 1065.5,374.5 1066.3,377.5 1067.2,376.2 1068.1,378.4 1069.0,376.2 1069.8,376.3 1070.7,371.6 1071.5,371.1 1072.4,369.7 1073.3,375.7 1074.2,380.5 1075.0,383.0 1075.9,387.9 1076.8,394.4 1077.7,394.4 1078.5,398.7 1079.4,397.9 1080.2,401.0 1081.1,401.6 1082.0,405.9 1082.9,406.9 1083.7,409.6 1084.6,414.8 1085.5,416.2 1086.3,415.6 1087.1,413.4 1087.9,413.2 1088.8,408.6 1089.6,401.9 1090.5,396.5 1091.3,390.2 1092.2,387.5 1093.0,381.3 1093.8,387.5 1094.7,391.4 1095.5,397.3 1096.4,399.0 1097.2,404.6 1098.1,410.3 1099.1,405.6 1100.0,402.7 1101.0,398.1 1102.0,391.6 1102.9,386.5 1103.9,382.8 1104.8,377.3 1105.6,372.3 1106.5,368.5 1107.3,360.8 1108.2,356.6 1109.2,363.0 1110.1,368.1 1111.1,372.6 1112.0,376.6 1112.9,379.3 1113.7,381.7 1114.6,383.6 1115.5,387.1 1116.4,388.2 1117.2,390.1 1118.1,393.3 1118.9,392.6 1119.8,395.8 1120.7,403.5 1121.6,414.1 1122.4,421.1 1123.3,429.2 1124.2,439.4 1125.1,426.8 1126.0,417.5 1126.8,405.7 1127.7,396.9 1128.6,384.2 1129.5,387.5 1130.3,389.9 1131.2,389.5 1132.0,390.9 1132.9,394.4 1134.0,399.5 1135.1,407.4 1135.9,404.5 1136.8,402.3 1137.7,398.5 1138.5,394.9 1139.3,392.6 1140.2,390.0 1141.2,397.2 1142.1,404.2 1143.1,411.2 1144.1,418.3 1145.0,424.5 1146.0,430.7 1146.9,430.9 1147.7,434.7 1148.6,434.3 1149.4,436.7 1150.3,437.9 1151.2,432.2 1152.1,428.3 1152.9,421.2 1153.8,416.2 1154.7,411.8 1155.6,403.1 1156.4,394.9 1157.3,389.6 1158.1,380.7 1159.0,372.6 1160.0,368.1 1161.0,364.5 1162.0,361.0 1162.9,366.6 1163.8,368.9 1164.7,371.8 1165.6,377.7 1166.5,380.6 1167.4,376.5 1168.4,373.0 1169.3,365.4 1170.2,362.0 1171.1,358.5 1172.1,354.0 1173.0,348.2 1174.0,353.8 1174.9,355.1 1175.9,360.2 1176.8,363.8 1177.8,369.3 1178.8,371.2 1179.8,376.7 1180.7,378.3 1181.7,382.4 1182.7,383.9 1183.6,379.5 1184.6,377.3 1185.5,371.9 1186.4,367.3 1187.3,365.1 1188.3,361.8 1189.2,356.3 1190.2,359.2 1191.2,365.1 1192.1,369.4 1193.1,372.2 1194.1,377.4 1195.1,383.4 1196.1,389.1 1197.1,395.8 1198.1,403.3 1198.9,403.1 1199.7,405.0 1200.6,405.8 1201.4,404.9 1202.2,406.6 1203.2,394.2 1204.2,384.6 1205.1,375.0 1206.1,362.6 1207.1,353.0 1208.1,355.9 1209.0,359.2 1210.0,364.7 1210.9,367.5 1211.9,370.9 1212.9,371.8 1213.8,374.4 1214.8,377.8 1215.7,380.8 1216.6,383.5 1217.6,385.5 1218.5,377.3 1219.5,370.8 1220.4,365.9 1221.4,358.1 1222.3,350.9 1223.3,344.9 1224.3,337.8 1225.3,333.5 1226.2,324.8 1227.2,319.2 1228.2,312.5 1229.0,321.3 1229.8,330.9 1230.6,341.7 1231.4,349.8 1232.4,363.5 1233.4,373.3 1234.3,384.8 1235.3,398.6 1236.3,409.8 1237.1,413.7 1237.9,417.9 1238.7,425.8 1239.5,429.3 1240.4,428.0 1241.2,428.3 1242.1,425.8 1243.0,426.3 1243.8,423.8 1244.7,422.9 1245.5,415.3 1246.3,408.3 1247.2,403.6 1248.0,396.9 1249.0,392.5 1250.0,388.5 1251.0,380.9 1252.0,377.4 1252.8,379.1 1253.6,379.6 1254.5,381.3 1255.3,381.4 1256.1,383.9 1257.1,389.0 1258.1,395.7 1259.0,402.9 1260.0,405.9 1261.0,413.1 1262.0,410.5 1262.9,408.9 1263.9,406.9 1264.8,401.7 1265.8,400.1 1266.6,390.7 1267.4,385.4 1268.3,377.4 1269.1,367.6 1269.9,359.5 1270.9,360.9 1271.9,366.8 1272.8,367.9 1273.8,372.6 1274.8,374.2 1275.8,381.5 1276.8,389.1 1277.8,393.7 1278.8,401.8 1279.8,390.8 1280.8,376.8 1281.7,365.4 1282.7,354.9 1283.7,341.7 1284.5,343.1 1285.3,341.3 1286.2,341.7 1287.0,342.6 1287.8,343.3 1288.8,350.3 1289.8,356.7 1290.8,362.7 1291.8,370.9 1292.8,368.4 1293.8,368.4 1294.7,367.4 1295.7,362.9 1296.7,362.8 1297.7,364.6 1298.7,366.9 1299.6,366.1 1300.6,370.4 1301.6,370.9 1302.6,370.3 1303.5,372.6 1304.5,373.1 1305.4,374.0 1306.4,374.2 1307.4,372.2 1308.4,371.3 1309.3,370.6 1310.3,368.7 1311.3,367.7 1312.1,368.2 1312.9,367.5 1313.8,367.5 1314.6,366.1 1315.4,367.7 1316.4,364.9 1317.4,361.2 1318.4,357.0 1319.4,354.7 1320.4,356.2 1321.4,356.9 1322.3,356.5 1323.3,356.2 1324.3,357.9" fill="none" stroke="#e01212" stroke-width="3.1" stroke-linejoin="round"/>
<polyline points="944.0,462.0 944.9,423.7 945.7,385.5 946.7,379.3 947.7,374.5 948.6,370.6 949.6,364.6 950.6,361.1 951.6,362.2 952.6,363.7 953.5,363.4 954.5,366.8 955.5,367.6 956.3,370.7 957.1,377.3 957.9,382.0 958.7,385.5 959.7,380.3 960.7,373.6 961.6,369.9 962.6,364.3 963.6,359.5 964.6,363.0 965.6,362.2 966.5,366.6 967.5,369.0 968.5,369.3 969.5,375.6 970.4,381.4 971.4,384.8 972.3,392.9 973.3,396.8 974.3,403.3 975.3,411.4 976.2,417.7 977.2,421.7 978.2,429.3 979.2,429.0 980.2,428.2 981.1,423.9 982.1,423.6 983.1,422.8 984.1,422.1 985.0,418.4 986.0,419.3 986.9,415.6 987.9,414.7 988.9,412.9 989.9,407.6 990.8,405.9 991.8,404.4 992.8,400.1 993.8,397.8 994.8,396.7 995.7,396.2 996.7,394.3 997.7,393.6 998.7,395.9 999.6,400.3 1000.6,404.1 1001.5,410.7 1002.5,413.1 1003.5,407.2 1004.5,401.4 1005.4,392.5 1006.4,388.1 1007.4,380.6 1008.3,382.4 1009.1,387.0 1010.0,390.0 1010.9,394.5 1011.8,397.6 1012.6,403.4 1013.5,406.4 1014.4,410.3 1015.3,405.9 1016.1,402.3 1017.0,395.0 1017.8,393.4 1018.7,387.1 1019.6,383.8 1020.5,379.2 1021.3,376.8 1022.2,371.2 1023.1,368.2 1024.1,372.1 1025.0,372.8 1026.0,374.3 1027.0,377.8 1027.9,378.9 1028.9,381.3 1029.9,388.7 1030.8,399.1 1031.8,405.2 1032.8,416.3 1033.7,422.8 1034.7,432.1 1035.7,427.5 1036.6,423.6 1037.6,417.1 1038.6,412.3 1039.5,406.0 1040.5,401.6 1041.4,398.2 1042.2,396.5 1043.1,395.2 1043.9,395.0 1044.8,392.9 1045.8,399.0 1046.7,405.5 1047.7,411.8 1048.5,406.7 1049.4,397.7 1050.2,391.6 1051.1,386.6 1051.9,378.0 1052.8,371.5 1053.6,366.8 1054.5,366.6 1055.3,366.0 1056.2,367.2 1057.0,367.0 1057.9,368.2 1058.9,364.4 1059.8,360.3 1060.8,354.9 1061.8,352.2 1062.7,347.6 1063.7,343.6 1064.6,345.8 1065.5,352.0 1066.3,353.2 1067.2,356.3 1068.1,361.0 1069.0,376.0 1069.9,394.1 1070.8,411.2 1071.7,426.3 1072.5,423.1 1073.4,417.7 1074.2,413.1 1075.1,408.2 1076.0,406.2 1076.8,401.6 1077.7,395.4 1078.5,388.3 1079.4,383.0 1080.2,375.9 1081.1,369.7 1082.0,370.9 1082.9,369.9 1083.7,367.9 1084.6,369.9 1085.5,368.2 1086.4,370.8 1087.3,376.5 1088.2,380.2 1089.0,383.8 1089.9,387.3 1090.8,392.9 1091.8,395.8 1092.7,395.1 1093.7,398.7 1094.6,388.7 1095.5,379.9 1096.4,367.0 1097.3,358.1 1098.2,360.0 1099.2,364.3 1100.1,366.8 1101.0,369.7 1102.0,377.4 1102.9,385.3 1103.9,390.3 1104.9,398.1 1105.8,405.3 1106.8,413.2 1107.8,416.0 1108.7,423.3 1109.7,427.3 1110.7,431.4 1111.6,433.4 1112.6,439.4 1113.5,437.7 1114.4,434.4 1115.3,430.6 1116.2,427.8 1117.1,419.9 1118.0,410.2 1118.9,400.7 1119.8,392.9 1120.7,393.0 1121.5,394.9 1122.3,395.7 1123.2,398.1 1124.1,401.0 1124.9,401.6 1125.8,401.7 1126.7,401.6 1127.5,400.6 1128.4,398.5 1129.3,398.7 1130.2,392.0 1131.1,384.7 1132.0,379.0 1132.9,371.1 1133.8,376.1 1134.7,380.2 1135.5,386.4 1136.4,392.4 1137.3,395.8 1138.3,391.9 1139.2,391.3 1140.2,387.1 1141.1,388.4 1141.9,392.1 1142.8,394.9 1143.6,399.5 1144.5,401.6 1145.5,408.0 1146.4,412.2 1147.4,416.2 1148.3,409.1 1149.2,404.4 1150.2,396.0 1151.1,390.0 1152.1,393.9 1153.0,401.1 1154.0,404.5 1154.8,400.4 1155.7,396.0 1156.5,391.3 1157.3,387.8 1158.2,381.5 1159.0,377.0 1160.0,367.0 1161.0,355.4 1162.0,343.6 1163.0,351.7 1163.9,357.3 1164.9,364.4 1165.9,369.1 1166.8,372.4 1167.8,375.4 1168.7,379.0 1169.7,383.9 1170.6,384.3 1171.6,382.5 1172.5,385.3 1173.4,382.7 1174.3,382.3 1175.3,382.6 1176.2,383.9 1177.1,379.3 1178.1,371.3 1179.0,364.6 1179.9,358.2 1180.8,352.2 1181.8,348.4 1182.7,341.7 1183.5,344.7 1184.3,347.5 1185.2,350.2 1186.0,350.5 1186.8,354.6 1187.8,348.4 1188.8,341.2 1189.8,336.3 1190.8,328.7 1191.6,323.9 1192.4,318.4 1193.3,309.7 1194.1,306.6 1194.9,299.5 1195.9,305.8 1196.9,310.7 1197.9,312.7 1198.9,318.9 1199.9,332.2 1200.9,346.1 1201.8,360.2 1202.8,377.2 1203.8,390.3 1204.7,390.0 1205.7,388.0 1206.6,387.2 1207.5,385.2 1208.4,382.6 1209.4,380.6 1210.3,380.6 1211.2,384.9 1212.2,392.8 1213.2,396.6 1214.1,402.7 1215.0,408.8 1216.0,414.7 1217.0,409.0 1217.9,405.7 1218.8,401.8 1219.8,399.2 1220.8,393.9 1221.7,390.3 1222.7,391.0 1223.6,394.5 1224.6,394.2 1225.5,396.7 1226.5,396.8 1227.5,393.3 1228.5,387.4 1229.4,384.9 1230.4,381.1 1231.4,377.4 1232.4,377.0 1233.4,374.3 1234.3,374.2 1235.3,372.3 1236.3,370.9 1237.2,365.9 1238.2,362.8 1239.2,360.8 1240.1,354.9 1241.1,354.1 1242.0,348.7 1243.0,344.9 1243.9,343.3 1244.7,345.5 1245.6,350.7 1246.4,354.7 1247.2,356.3 1248.2,363.9 1249.2,374.9 1250.2,384.2 1251.2,393.6 1252.0,406.6 1252.8,416.6 1253.7,429.6 1254.5,441.2 1255.3,453.7 1256.1,447.0 1256.9,437.3 1257.8,431.8 1258.6,421.8 1259.4,414.7 1260.4,411.5 1261.3,410.9 1262.3,407.9 1263.2,404.3 1264.2,403.4 1265.2,410.3 1266.2,414.9 1267.1,423.8 1268.1,430.0 1269.1,435.8 1270.1,427.7 1271.1,418.1 1272.0,408.1 1273.0,399.1 1274.0,390.4 1274.8,382.3 1275.6,376.3 1276.4,365.8 1277.2,359.5 1278.0,367.6 1278.8,371.5 1279.7,379.0 1280.5,386.0 1281.3,393.6 1282.3,391.7 1283.2,387.1 1284.2,383.5 1285.1,381.9 1286.1,377.4 1287.1,365.8 1288.1,355.8 1289.0,345.3 1290.0,335.4 1291.0,323.8 1292.0,332.0 1293.0,338.9 1294.0,345.2 1295.0,353.0 1296.0,365.7 1297.0,378.5 1297.9,394.1 1298.9,406.8 1299.9,419.6 1300.9,414.3 1301.9,406.2 1302.8,400.9 1303.8,395.9 1304.8,388.8 1305.8,385.2 1306.8,379.7 1307.7,377.0 1308.7,374.5 1309.7,369.3 1310.7,372.5 1311.7,376.4 1312.7,380.8 1313.7,385.5 1314.5,373.2 1315.3,360.7 1316.2,345.4 1317.0,333.6 1318.0,327.2 1319.0,322.3 1319.9,317.4 1320.9,312.9 1321.9,307.6 1322.7,321.5 1323.5,337.1 1324.3,351.6 1325.1,367.7" fill="none" stroke="#15871f" stroke-width="3.1" stroke-linejoin="round"/>
<polyline points="944.0,462.0 944.9,426.0 945.9,420.5 946.9,412.5 947.8,403.2 948.8,399.0 949.8,390.3 950.8,391.9 951.8,395.7 952.7,400.7 953.7,403.0 954.7,404.9 955.7,411.6 956.6,416.4 957.6,421.4 958.5,428.8 959.5,434.2 960.4,425.7 961.4,418.8 962.3,412.3 963.2,403.9 964.1,397.9 965.1,392.1 966.0,383.9 967.0,388.6 967.9,392.0 968.9,396.5 969.8,400.0 970.8,402.9 971.7,408.2 972.7,409.5 973.7,409.8 974.6,412.0 975.6,413.5 976.6,413.1 977.6,415.8 978.5,419.2 979.5,422.7 980.4,424.5 981.4,427.7 982.4,421.3 983.4,417.4 984.3,412.4 985.3,406.6 986.3,400.1 987.2,396.6 988.2,393.0 989.1,388.2 990.0,383.9 990.9,379.1 991.9,374.4 992.8,370.9 993.7,376.4 994.7,379.7 995.6,385.9 996.5,392.3 997.4,397.1 998.4,401.9 999.3,406.6 1000.2,401.6 1001.2,398.0 1002.1,393.9 1003.0,390.3 1003.9,385.4 1004.9,382.2 1005.8,377.4 1006.6,380.8 1007.5,380.2 1008.3,383.7 1009.2,386.1 1010.0,387.1 1011.0,380.4 1011.9,374.5 1012.9,368.2 1013.9,371.3 1014.8,369.6 1015.8,372.7 1016.8,372.9 1017.7,376.5 1018.7,377.0 1019.6,381.4 1020.5,382.9 1021.3,384.3 1022.2,388.9 1023.1,391.5 1023.9,386.3 1024.8,381.6 1025.6,375.5 1026.4,370.6 1027.3,366.0 1028.1,359.5 1029.0,362.8 1029.9,365.7 1030.9,370.8 1031.8,372.6 1032.7,377.4 1033.5,384.8 1034.4,389.6 1035.2,396.7 1036.1,401.6 1037.1,393.5 1038.0,389.7 1039.0,381.3 1039.9,384.8 1040.8,387.8 1041.8,392.5 1042.7,397.3 1043.7,405.7 1044.6,413.0 1045.6,423.4 1046.5,431.8 1047.4,440.6 1048.3,450.2 1049.2,458.3 1050.1,453.7 1051.0,449.3 1051.8,445.1 1052.7,442.8 1053.6,437.9 1054.6,434.3 1055.5,427.8 1056.5,421.7 1057.5,418.6 1058.4,412.1 1059.4,407.4 1060.3,411.5 1061.2,416.3 1062.1,423.6 1063.0,427.8 1063.9,426.7 1064.8,423.9 1065.7,421.2 1066.6,419.1 1067.5,413.5 1068.4,406.5 1069.2,403.2 1070.1,395.3 1071.0,390.0 1071.9,385.7 1072.8,381.6 1073.7,376.9 1074.6,371.1 1075.5,376.4 1076.4,381.3 1077.3,387.6 1078.2,392.9 1079.2,402.8 1080.1,416.3 1081.1,426.3 1082.0,418.5 1082.9,413.0 1083.7,403.7 1084.6,396.8 1085.5,390.0 1086.5,384.4 1087.5,380.3 1088.4,374.8 1089.4,371.1 1090.3,369.1 1091.1,371.3 1092.0,369.5 1092.8,369.1 1093.7,369.7 1094.7,375.3 1095.6,382.2 1096.6,388.3 1097.6,395.3 1098.5,401.7 1099.5,407.4 1100.4,403.5 1101.3,401.9 1102.1,398.2 1103.0,392.0 1103.9,390.0 1104.8,396.4 1105.6,401.9 1106.5,406.7 1107.3,409.7 1108.2,416.2 1109.1,411.5 1110.0,405.0 1110.8,397.1 1111.7,391.3 1112.6,387.1 1113.5,382.1 1114.4,374.6 1115.3,366.7 1116.2,361.0 1117.1,364.7 1118.0,369.9 1118.9,375.3 1119.8,381.3 1120.6,387.2 1121.5,390.7 1122.3,395.1 1123.2,402.6 1124.0,407.2 1124.9,410.1 1125.7,416.2 1126.6,409.7 1127.4,400.9 1128.3,393.6 1129.1,385.4 1130.0,377.0 1130.9,372.8 1131.8,366.9 1132.6,361.6 1133.5,353.9 1134.4,349.4 1135.3,359.9 1136.1,369.2 1137.0,379.8 1137.8,388.6 1138.7,398.7 1139.7,409.2 1140.6,417.3 1141.6,426.3 1142.5,421.7 1143.4,417.8 1144.2,413.7 1145.1,411.2 1146.0,407.4 1146.9,412.3 1147.7,420.1 1148.6,425.4 1149.4,433.0 1150.3,439.4 1151.2,437.1 1152.1,434.9 1152.9,433.7 1153.8,428.4 1154.7,427.8 1155.6,426.6 1156.4,423.1 1157.3,421.1 1158.1,419.1 1159.0,416.2 1160.1,405.7 1161.2,392.9 1162.1,399.5 1163.1,406.8 1164.0,415.7 1164.9,421.2 1165.9,415.2 1166.8,412.6 1167.8,408.0 1168.7,401.4 1169.7,398.5 1170.7,397.2 1171.7,395.8 1172.6,395.0 1173.6,391.4 1174.6,390.3 1175.6,394.5 1176.6,395.5 1177.5,398.0 1178.5,402.1 1179.5,403.3 1180.4,398.5 1181.4,397.6 1182.3,394.0 1183.2,389.8 1184.1,388.3 1185.1,383.4 1186.0,380.6 1186.8,378.9 1187.6,377.4 1188.4,376.6 1189.2,374.1 1190.2,377.7 1191.2,383.0 1192.1,387.5 1193.1,392.4 1194.1,396.8 1195.1,403.1 1196.0,406.5 1197.0,413.5 1197.9,417.3 1198.9,422.8 1199.9,415.4 1200.9,407.1 1201.8,400.4 1202.8,394.6 1203.8,385.5 1204.7,375.6 1205.7,365.6 1206.6,353.6 1207.5,343.2 1208.4,332.7 1209.4,323.2 1210.3,312.5 1211.1,319.4 1211.9,326.4 1212.8,330.4 1213.6,339.2 1214.4,344.9 1215.4,363.7 1216.3,380.1 1217.3,395.9 1218.2,414.3 1219.2,432.5 1220.2,426.0 1221.1,421.7 1222.1,419.3 1223.0,413.4 1224.0,408.7 1224.9,403.3 1225.9,405.3 1226.9,406.7 1227.8,406.6 1228.8,407.6 1229.8,408.2 1230.8,412.2 1231.7,416.0 1232.7,419.2 1233.6,423.1 1234.6,426.0 1235.5,428.3 1236.4,433.1 1237.3,435.7 1238.2,439.1 1239.0,433.5 1239.8,424.7 1240.7,418.5 1241.5,411.5 1242.3,406.6 1243.1,398.1 1243.9,389.2 1244.8,378.9 1245.6,368.5 1246.4,359.5 1247.4,365.9 1248.4,371.0 1249.4,375.5 1250.4,380.6 1251.4,389.0 1252.3,398.3 1253.2,407.9 1254.2,416.8 1255.1,426.4 1256.1,435.8 1257.1,438.2 1258.1,441.2 1259.0,440.2 1260.0,443.9 1261.0,445.6 1261.9,438.0 1262.9,432.2 1263.8,428.6 1264.7,421.7 1265.6,416.9 1266.6,409.2 1267.5,403.4 1268.5,397.8 1269.4,395.2 1270.4,392.0 1271.3,389.3 1272.3,383.9 1273.2,382.3 1274.2,377.3 1275.2,373.9 1276.1,369.5 1277.0,368.1 1278.0,364.4 1278.8,368.3 1279.6,373.0 1280.5,377.4 1281.3,382.2 1282.1,388.8 1283.1,393.6 1284.0,396.0 1285.0,403.0 1285.9,404.3 1286.9,409.9 1287.9,419.3 1288.9,424.9 1289.8,432.6 1290.8,443.1 1291.8,450.5 1292.8,444.7 1293.8,441.5 1294.7,434.8 1295.7,429.5 1296.7,426.1 1297.7,426.4 1298.7,425.5 1299.6,425.4 1300.6,424.3 1301.6,422.9 1302.6,419.5 1303.5,419.4 1304.5,417.7 1305.4,414.9 1306.4,413.1 1307.4,416.2 1308.4,415.5 1309.3,419.5 1310.3,420.3 1311.3,421.2 1312.3,422.1 1313.3,424.8 1314.2,429.5 1315.2,432.7 1316.2,434.2 1317.2,422.6 1318.2,413.3 1319.2,404.5 1320.2,393.6 1321.2,383.7 1322.2,377.3 1323.1,367.3 1324.1,357.1 1325.1,349.8" fill="none" stroke="#050505" stroke-width="3.1" stroke-linejoin="round"/>
<rect x="943.8" y="22.7" width="417.70000000000005" height="439.3" fill="none" stroke="#000" stroke-width="3.5"/>
<line x1="1013.6" y1="462.0" x2="1013.6" y2="453.8" stroke="#000" stroke-width="2.2"/>
<line x1="1013.6" y1="22.7" x2="1013.6" y2="30.5" stroke="#000" stroke-width="2.2"/>
<line x1="1083.2" y1="462.0" x2="1083.2" y2="453.8" stroke="#000" stroke-width="2.2"/>
<line x1="1083.2" y1="22.7" x2="1083.2" y2="30.5" stroke="#000" stroke-width="2.2"/>
<line x1="1152.7" y1="462.0" x2="1152.7" y2="453.8" stroke="#000" stroke-width="2.2"/>
<line x1="1152.7" y1="22.7" x2="1152.7" y2="30.5" stroke="#000" stroke-width="2.2"/>
<line x1="1222.3" y1="462.0" x2="1222.3" y2="453.8" stroke="#000" stroke-width="2.2"/>
<line x1="1222.3" y1="22.7" x2="1222.3" y2="30.5" stroke="#000" stroke-width="2.2"/>
<line x1="1291.9" y1="462.0" x2="1291.9" y2="453.8" stroke="#000" stroke-width="2.2"/>
<line x1="1291.9" y1="22.7" x2="1291.9" y2="30.5" stroke="#000" stroke-width="2.2"/>
<line x1="943.8" y1="352.2" x2="951.7" y2="352.2" stroke="#000" stroke-width="2.2"/>
<line x1="1361.5" y1="352.2" x2="1352.7" y2="352.2" stroke="#000" stroke-width="2.2"/>
<line x1="943.8" y1="242.4" x2="951.7" y2="242.4" stroke="#000" stroke-width="2.2"/>
<line x1="1361.5" y1="242.4" x2="1352.7" y2="242.4" stroke="#000" stroke-width="2.2"/>
<line x1="943.8" y1="132.5" x2="951.7" y2="132.5" stroke="#000" stroke-width="2.2"/>
<line x1="1361.5" y1="132.5" x2="1352.7" y2="132.5" stroke="#000" stroke-width="2.2"/>
<text x="931.5" y="466.0" font-size="22" text-anchor="end" fill="#000">0</text>
<text x="931.5" y="356.2" font-size="22" text-anchor="end" fill="#000">50</text>
<text x="931.5" y="246.4" font-size="22" text-anchor="end" fill="#000">100</text>
<text x="931.5" y="136.5" font-size="22" text-anchor="end" fill="#000">150</text>
<text x="931.5" y="26.7" font-size="22" text-anchor="end" fill="#000">200</text>
<text x="1373.5" y="465.8" font-size="22" fill="#000">0</text>
<text x="1373.5" y="356.0" font-size="22" fill="#000">500</text>
<text x="1373.5" y="246.2" font-size="22" fill="#000">1,000</text>
<text x="1373.5" y="136.3" font-size="22" fill="#000">1,500</text>
<text x="1373.5" y="26.5" font-size="22" fill="#000">2,000</text>
<text x="944.0" y="488.8" font-size="22" text-anchor="middle" fill="#000">0</text>
<text x="1013.6" y="488.8" font-size="22" text-anchor="middle" fill="#000">200</text>
<text x="1083.2" y="488.8" font-size="22" text-anchor="middle" fill="#000">400</text>
<text x="1152.7" y="488.8" font-size="22" text-anchor="middle" fill="#000">600</text>
<text x="1222.3" y="488.8" font-size="22" text-anchor="middle" fill="#000">800</text>
<text x="1291.9" y="488.8" font-size="22" text-anchor="middle" fill="#000">1,000</text>
<text x="1361.5" y="488.8" font-size="22" text-anchor="middle" fill="#000">1,200</text>
<text x="1137.8" y="515.6" font-size="22" font-weight="bold" textLength="51.2" lengthAdjust="spacingAndGlyphs" fill="#000">Days</text>
<text x="0" y="0" font-size="22" font-weight="bold" text-anchor="middle" transform="translate(880.5,242.3) rotate(-90)" textLength="330.8" lengthAdjust="spacingAndGlyphs">Number of Cells in Each Colony</text>
<text x="0" y="0" font-size="22" font-weight="bold" text-anchor="middle" transform="translate(1433,241.5) rotate(90)" textLength="225.3" lengthAdjust="spacingAndGlyphs">Total Number of Cells</text>
<text x="965" y="45.3" font-size="16.5" font-weight="bold" textLength="70" lengthAdjust="spacingAndGlyphs" fill="#e8782a">Colony 1</text>
<text x="965" y="64.9" font-size="16.5" font-weight="bold" textLength="70.5" lengthAdjust="spacingAndGlyphs" fill="#e0208a">Colony 2</text>
<text x="965" y="84.5" font-size="16.5" font-weight="bold" textLength="71" lengthAdjust="spacingAndGlyphs" fill="#18842a">Colony 3</text>
<text x="965" y="104.1" font-size="16.5" font-weight="bold" textLength="71" lengthAdjust="spacingAndGlyphs" fill="#2a2a2a">Colony 4</text>
<text x="965.5" y="124.3" font-size="16.5" font-weight="bold" textLength="174.7" lengthAdjust="spacingAndGlyphs" fill="#1a1ab8">Total Number of Cells</text>
<text x="1343.8" y="47" font-size="21" font-weight="bold" fill="#000">a</text>
</svg>
</body></html>
